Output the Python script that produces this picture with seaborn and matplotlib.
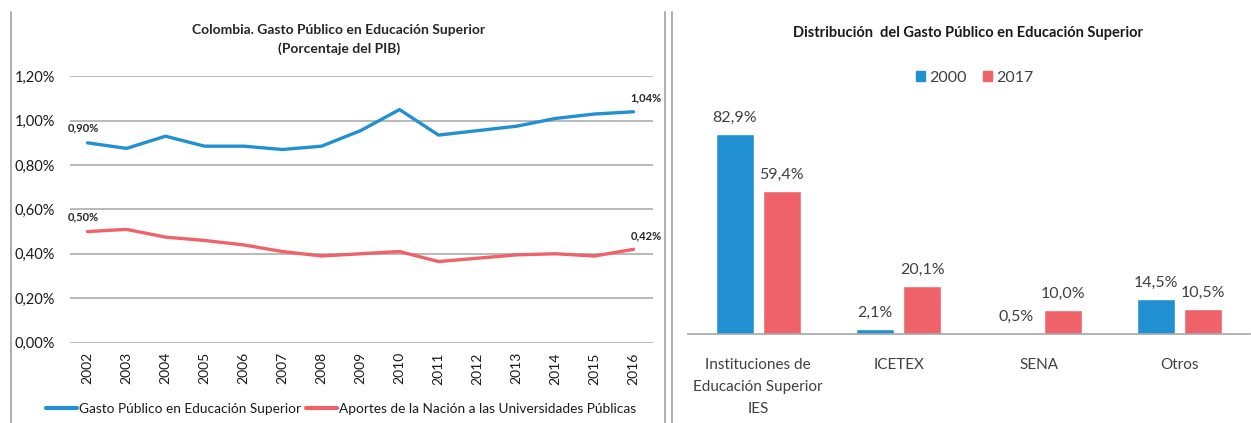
import pandas as pd
import matplotlib.pyplot as plt
import seaborn as sns
from matplotlib.lines import Line2D

# Data - left chart (percent of GDP)
years = list(range(2002, 2017))
gasto_publico = [0.90, 0.875, 0.93, 0.885, 0.885, 0.87, 0.885, 0.955, 1.05, 0.935, 0.955, 0.975, 1.01, 1.03, 1.04]
aportes_nacion = [0.50, 0.51, 0.475, 0.46, 0.44, 0.41, 0.39, 0.40, 0.41, 0.365, 0.38, 0.395, 0.40, 0.39, 0.42]
line_names = ["Gasto Público en Educación Superior", "Aportes de la Nación a las Universidades Públicas"]

# Data - right chart (distribution, %)
categorias = ["Instituciones de\nEducación Superior\nIES", "ICETEX", "SENA", "Otros"]
dist_2000 = [82.9, 2.1, 0.5, 14.5]
dist_2017 = [59.4, 20.1, 10.0, 10.5]

BLUE = "#2190d3"
RED = "#f0626a"
GRID = "#a6a6a6"
TXT = "#404040"
W, H = 1251, 423

sns.set_style("white")
plt.rcParams["font.family"] = ["Lato", "DejaVu Sans"]

fig = plt.figure(figsize=(W / 100, H / 100), dpi=100)

# ---------------- Left: line chart ----------------
ax1 = fig.add_axes([70 / W, 1 - 342.5 / H, 583 / W, 266.2 / H])
df_lines = pd.DataFrame({
    "year": years * 2,
    "value": gasto_publico + aportes_nacion,
    "serie": [line_names[0]] * len(years) + [line_names[1]] * len(years),
})
sns.lineplot(data=df_lines, x="year", y="value", hue="serie",
             palette=[BLUE, RED], linewidth=2.4, ax=ax1, legend=False)
ax1.set_xlim(2001.55, 2016.5)
ax1.set_ylim(0, 1.2)
yt = [0, 0.2, 0.4, 0.6, 0.8, 1.0, 1.2]
ax1.set_yticks(yt)
ax1.set_yticklabels([f"{v:.2f}%".replace(".", ",") for v in yt], fontsize=10.5, color="#1a1a1a")
ax1.set_xticks(years)
ax1.set_xticklabels([str(y) for y in years], rotation=90, fontsize=10, color="#1a1a1a")
ax1.tick_params(axis="y", length=0, pad=11)
ax1.tick_params(axis="x", length=0, pad=7)
ax1.grid(axis="y", color=GRID, linewidth=1.1)
ax1.set_axisbelow(True)
for s in ax1.spines.values():
    s.set_visible(False)
ax1.set_xlabel("")
ax1.set_ylabel("")

fig.text(339 / W, 1 - 30 / H, "Colombia. Gasto Público en Educación Superior",
         fontsize=10, fontweight="bold", ha="center", va="center")
fig.text(339 / W, 1 - 49 / H, "(Porcentaje del PIB)",
         fontsize=10, fontweight="bold", ha="center", va="center")

# end point labels
for vals in (gasto_publico, aportes_nacion):
    ax1.annotate(f"{vals[0]:.2f}%".replace(".", ","), (years[0], vals[0]), xytext=(-3, 10.5),
                 textcoords="offset points", fontsize=8, fontweight="bold", ha="center", va="center")
    ax1.annotate(f"{vals[-1]:.2f}%".replace(".", ","), (years[-1], vals[-1]), xytext=(9, 10),
                 textcoords="offset points", fontsize=8, fontweight="bold", ha="center", va="center")

handles = [Line2D([], [], color=BLUE, lw=3), Line2D([], [], color=RED, lw=3)]
ax1.legend(handles, line_names, loc="center", bbox_to_anchor=(341 / W, 1 - 409 / H),
           bbox_transform=fig.transFigure, ncol=2, frameon=False, fontsize=9.8,
           handlelength=2.3, handletextpad=0.15, columnspacing=0.35, borderpad=0,
           labelcolor="#1a1a1a")

# ---------------- Right: bar chart ----------------
ax2 = fig.add_axes([688 / W, 1 - 334 / H, 562 / W, 241 / H])
df_bars = pd.DataFrame({
    "categoria": categorias * 2,
    "valor": dist_2000 + dist_2017,
    "anio": ["2000"] * len(categorias) + ["2017"] * len(categorias),
})
sns.barplot(data=df_bars, x="categoria", y="valor", hue="anio", palette=[BLUE, RED],
            saturation=1, width=0.67, gap=0.19, ax=ax2, legend=False)
ax2.set_xlim(-0.5, 3.5)
ax2.set_ylim(0, 100)
ax2.set_yticks([])
ax2.set_xlabel("")
ax2.set_ylabel("")
ax2.set_xticks(range(len(categorias)))
ax2.set_xticklabels(categorias, linespacing=1.75, fontsize=11, color=TXT, va="top")
ax2.tick_params(axis="x", length=0, pad=17)
for name in ["top", "right", "left"]:
    ax2.spines[name].set_visible(False)
ax2.spines["bottom"].set_color(GRID)
ax2.spines["bottom"].set_linewidth(1.2)
for cont in ax2.containers:
    ax2.bar_label(cont, labels=[f"{v:.1f}%".replace(".", ",") for v in cont.datavalues],
                  padding=6.5, fontsize=11.5, color=TXT)

fig.text(968 / W, 1 - 33 / H, "Distribución  del Gasto Público en Educación Superior",
         fontsize=10.5, fontweight="bold", color="#1a1a1a", ha="center", va="center")

bar_handles = [plt.Rectangle((0, 0), 1, 1, color=BLUE), plt.Rectangle((0, 0), 1, 1, color=RED)]
ax2.legend(bar_handles, ["2000", "2017"], loc="center", bbox_to_anchor=(975 / W, 1 - 77.5 / H),
           bbox_transform=fig.transFigure, ncol=2, frameon=False, fontsize=11.5,
           handlelength=0.55, handleheight=0.55, handletextpad=0.3, columnspacing=1.0,
           labelcolor=TXT, borderpad=0)

# panel borders
for xb in (11, 665, 672):
    fig.add_artist(Line2D([xb / W, xb / W], [0, 1 - 12 / H], color="#a8a8a8", lw=1.3))

plt.savefig("out.png", dpi=100)
plt.close()
